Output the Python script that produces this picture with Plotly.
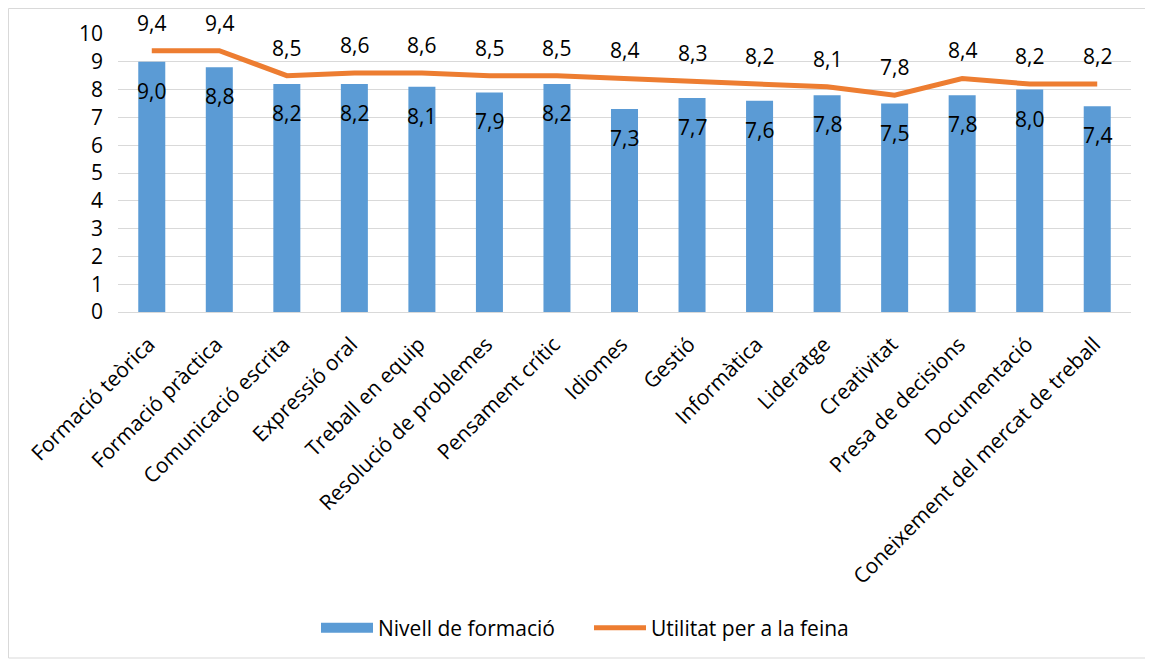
import plotly.graph_objects as go

categories = ["Formació teòrica", "Formació pràctica", "Comunicació escrita", "Expressió oral",
              "Treball en equip", "Resolució de problemes", "Pensament crític", "Idiomes", "Gestió",
              "Informàtica", "Lideratge", "Creativitat", "Presa de decisions", "Documentació",
              "Coneixement del mercat de treball"]
nivell = [9.0, 8.8, 8.2, 8.2, 8.1, 7.9, 8.2, 7.3, 7.7, 7.6, 7.8, 7.5, 7.8, 8.0, 7.4]
utilitat = [9.4, 9.4, 8.5, 8.6, 8.6, 8.5, 8.5, 8.4, 8.3, 8.2, 8.1, 7.8, 8.4, 8.2, 8.2]
y_ticks = list(range(0, 11))

FONT = "Open Sans"
FS = 21
OFF = 8  # page body margin
W, H = 1153 - OFF, 661 - OFF
L, T = 118 - OFF, 34 - OFF
R = W - (1131 - OFF)
B = H - (312 - OFF)
pw, ph = W - L - R, H - T - B
BLUE, ORANGE = "#5B9BD5", "#ED7D31"

def fmt(v):
    return f"{v:.1f}".replace(".", ",")

fig = go.Figure()
fig.add_trace(go.Bar(x=categories, y=nivell, name="Nivell de formació",
                     marker=dict(color=BLUE, line=dict(width=0)),
                     showlegend=False, hoverinfo="skip"))
# legend entry for the bars (wide patch like the reference)
fig.add_trace(go.Scatter(x=[None], y=[None], mode="lines", name="Nivell de formació",
                         line=dict(color=BLUE, width=16), hoverinfo="skip"))
fig.add_trace(go.Scatter(x=categories, y=utilitat, name="Utilitat per a la feina", mode="lines",
                         line=dict(color=ORANGE, width=5), hoverinfo="skip"))

annotations = []
for c, v in zip(categories, nivell):
    annotations.append(dict(x=c, y=v, text=fmt(v), showarrow=False, yshift=-29,
                            font=dict(family=FONT, size=FS, color="#000000")))
for c, v in zip(categories, utilitat):
    annotations.append(dict(x=c, y=v, text=fmt(v), showarrow=False, yshift=28,
                            font=dict(family=FONT, size=FS, color="#000000")))

fig.update_layout(
    width=W, height=H,
    margin=dict(l=L, r=R, t=T, b=B, autoexpand=False),
    paper_bgcolor="white", plot_bgcolor="white",
    font=dict(family=FONT, size=FS, color="#000000"),
    bargap=0.6,
    annotations=annotations,
    showlegend=True,
    legend=dict(orientation="h", x=(316 - OFF - L) / pw, xanchor="left",
                y=(T + ph - (628 - OFF)) / ph, yanchor="middle",
                font=dict(family=FONT, size=FS, color="#000000"),
                itemwidth=52, entrywidth=206, traceorder="normal"),
    shapes=[dict(type="rect", xref="paper", yref="paper",
                 x0=(0.5 - L) / pw, x1=(W - 3 - L) / pw,
                 y0=(T + ph - (H - 3)) / ph, y1=(T + ph - 0.5) / ph,
                 line=dict(color="#D9D9D9", width=1), fillcolor="rgba(0,0,0,0)", layer="below")],
)
fig.update_xaxes(tickangle=-45, showgrid=False, showline=False, ticks="", automargin=False,
                 ticklabelstandoff=15, ticklabelshift=-3,
                 tickfont=dict(family=FONT, size=FS, color="#000000"))
fig.update_yaxes(range=[0, 10], tickvals=y_ticks, showgrid=True, gridcolor="#D9D9D9", gridwidth=1,
                 zeroline=True, zerolinecolor="#D9D9D9", zerolinewidth=1, showline=False, ticks="",
                 ticklabelstandoff=14, automargin=False,
                 tickfont=dict(family=FONT, size=FS, color="#000000"))

fig.write_html("out.html")
